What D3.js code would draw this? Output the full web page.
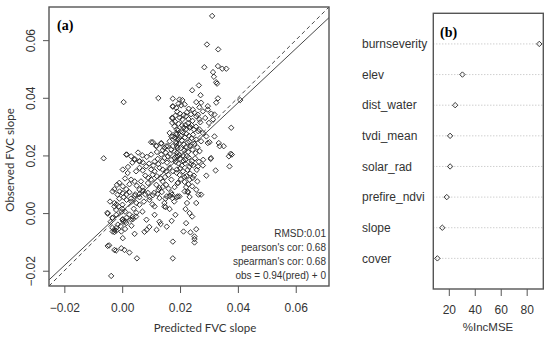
<!DOCTYPE html>
<html>
<head>
<meta charset="utf-8">
<script src="https://cdn.jsdelivr.net/npm/d3@7"></script>
<style>
  body { margin: 0; background: #fff; }
  svg { display: block; }
</style>
</head>
<body>
<div id="chart"></div>
<script>
// (a) observed vs predicted FVC slope, pairs of [predicted, observed]
var points = [
  [.0311,.0684],[.0293,.0585],[.0332,.0568],[.0284,.0506],[.0331,.0510],[.0346,.0501],[.0360,.0501],
  [.0314,.0489],[.0317,.0473],[.0325,.0454],[.0328,.0449],[.0265,.0443],[.0242,.0426],[.0271,.0409],
  [.0005,.0385],[.0125,.0399],[.0175,.0397],[.0198,.0394],[.0208,.0392],[.0331,.0398],[.0408,.0392],
  [.0256,.0385],[.0273,.0383],[.0296,.0371],[.0195,.0380],[.0204,.0374],[.0216,.0377],[.0175,.0369],
  [.0187,.0365],[.0230,.0362],[.0244,.0359],[.0267,.0367],[.0279,.0353],[.0296,.0359],[.0325,.0383],
  [.0308,.0345],[.0319,.0342],[.0172,.0330],[.0221,.0336],[.0208,.0325],[.0256,.0336],[.0267,.0325],
  [.0287,.0330],[.0314,.0325],[.0300,.0313],[.0377,.0296],[.0219,.0306],[.0233,.0296],[.0221,.0292],
  [.0235,.0299],[.0204,.0284],[.0187,.0278],[.0170,.0266],[.0198,.0261],[.0267,.0290],[.0279,.0278],
  [.0291,.0266],[.0256,.0255],[.0273,.0249],[.0319,.0266],[.0296,.0243],[.0334,.0243],[.0351,.0232],
  [.0337,.0232],[.0106,.0246],[.0135,.0241],[.0118,.0232],[.0152,.0232],[.0164,.0249],[.0175,.0232],
  [.0187,.0243],[.0375,.0206],[.0369,.0197],[-.0064,.0190],[.0016,.0203],[.0031,.0197],[.0043,.0188],
  [.0060,.0180],[.0307,.0191],
  [.0379,.0203],[.0371,.0162],[.0323,.0148],[.0306,.0188],[.0302,.0246],[.0279,.0165],[.0291,.0130],
  [.0244,.0122],[.0233,.0116],[.0262,.0162],[.0221,.0090],[.0227,.0075],
  [.0273,.0064],[.0227,.0072],[.0233,.0056],[.0224,.0035],[.0256,.0035],[.0219,.0014],[.0233,.0000],
  [.0221,-.0035],[.0212,-.0064],[.0236,-.0067],[.0256,-.0056],[.0250,-.0090],[.0250,-.0102],[.0250,-.0081],
  [.0242,-.0012],[.0264,.0064],[.0256,.0081],[.0198,.0058],[.0216,.0075],[.0242,.0093],
  [-.0038,-.0218],[.0051,-.0157],[.0175,-.0157],[-.0050,-.0114],[-.0027,-.0128],[-.0021,-.0130],
  [-.0045,-.0112],[-.0003,-.0122],[.0008,-.0128],[.0025,-.0137],[.0002,-.0087],[.0043,-.0072],
  [.0085,-.0058],[.0133,-.0038],[.0154,-.0047],[.0175,-.0099],[-.0033,-.0064],[-.0021,-.0061],
  [-.0003,-.0064],[-.0027,-.0066],[.0002,-.0021],[.0011,-.0029],[.0037,-.0021],[-.0042,.0040],
  [-.0050,-.0002],[-.0027,.0023],[-.0033,-.0017],[.0146,.0023],[.0164,.0014],[.0173,.0052],
  [.0192,.0058],[-.0012,.0023],[-.0021,.0011],[.0004,-.0029],[.0014,-.0035],[.0031,-.0023],
  [.0048,-.0012],[.0150,.0021],
  [.0175,.0371],[.0184,.0338],[.0175,.0330],[.0173,.0313],[.0181,.0301],[.0189,.0290],[.0164,.0278],
  [.0175,.0266],[.0187,.0272],[.0192,.0255],[.0100,.0246],[.0118,.0234],[.0135,.0243],[.0146,.0226],
  [.0158,.0232],[.0170,.0220],[.0181,.0214],[.0192,.0226],[.0014,.0203],[.0043,.0185],[.0060,.0179],
  [.0071,.0176],[.0100,.0203],[.0112,.0179],[.0123,.0188],[.0135,.0203],[.0146,.0191],[.0158,.0197],
  [.0170,.0185],[.0181,.0191],[.0192,.0197],
  [.0002,.0151],[.0019,.0139],[.0048,.0145],[.0060,.0157],[.0071,.0148],[.0083,.0162],[.0100,.0151],
  [.0112,.0145],[.0129,.0157],[.0140,.0151],[.0152,.0145],[.0164,.0157],[.0175,.0145],[.0189,.0151],
  [-.0027,.0083],[-.0009,.0075],[.0002,.0093],[.0014,.0083],[.0031,.0116],[.0043,.0110],[.0060,.0081],
  [.0071,.0090],[.0089,.0104],[.0100,.0116],[.0118,.0098],[.0129,.0087],[.0140,.0110],[.0152,.0098],
  [.0170,.0116],[.0181,.0090],[.0192,.0104],
  [-.0033,.0075],[-.0016,.0064],[.0002,.0069],[.0025,.0072],[.0043,.0060],[.0060,.0066],[.0071,.0078],
  [.0089,.0070],[.0106,.0062],[.0123,.0067],[.0137,.0073],[.0154,.0058],[.0172,.0064],[.0189,.0055],
  [-.0027,.0035],[.0001,.0029],[.0015,.0046],[.0032,.0040],[.0049,.0035],[.0060,.0029],[.0094,.0046],
  [.0112,.0023],[.0129,.0052],[.0146,.0035],
  [-.0051,.0001],[-.0034,-.0016],[-.0020,-.0006],[-.0002,.0005],[.0001,-.0023],[.0015,-.0016],
  [.0036,-.0013],[.0049,.0001],[.0070,.0005],[.0084,-.0023],[.0112,-.0006],[.0129,-.0030],
  [.0171,-.0027],[.0184,-.0006],[-.0034,-.0051],[-.0027,-.0058],[-.0020,-.0051],[.0032,-.0044],
  [.0077,-.0065],[.0094,-.0048],[.0119,-.0058],
  [.0190,.0352],[.0200,.0345],[.0212,.0340],[.0224,.0350],[.0238,.0343],[.0250,.0348],[.0262,.0341],
  [.0199,.0331],[.0229,.0326],[.0243,.0320],[.0270,.0315],[.0183,.0317],[.0195,.0310],[.0207,.0305],
  [.0213,.0297],[.0228,.0312],[.0240,.0305],[.0248,.0290],[.0255,.0300],[.0263,.0284],[.0210,.0280],
  [.0222,.0275],[.0231,.0268],[.0245,.0272],[.0182,.0262],[.0240,.0260],
  [.0185,.0248],[.0196,.0240],[.0206,.0252],[.0214,.0238],[.0226,.0245],[.0236,.0232],[.0249,.0240],
  [.0260,.0228],[.0202,.0225],[.0215,.0218],[.0228,.0212],[.0243,.0220],[.0254,.0208],[.0268,.0215],
  [.0190,.0210],[.0186,.0196],[.0200,.0188],[.0210,.0200],[.0219,.0185],[.0230,.0193],[.0241,.0180],
  [.0252,.0190],[.0265,.0178],[.0195,.0172],[.0206,.0165],[.0218,.0172],[.0232,.0160],[.0246,.0166],
  [.0258,.0150],[.0280,.0185],[.0188,.0140],[.0199,.0132],[.0210,.0145],[.0222,.0128],[.0235,.0137],
  [.0248,.0130],[.0203,.0118],[.0216,.0108],[.0229,.0100],[.0193,.0105],[.0260,.0110],
  [.0080,.0130],[.0090,.0122],[.0105,.0133],[.0120,.0128],[.0133,.0120],[.0148,.0125],[.0160,.0133],
  [.0093,.0172],[.0108,.0165],[.0125,.0170],[.0140,.0180],[.0155,.0175],[.0165,.0205],[.0150,.0210],
  [.0140,.0218],[.0120,.0212],[.0085,.0195],[.0070,.0200],[.0055,.0210],[.0035,.0175],[.0020,.0160],
  [.0010,.0120],[-.0010,.0105],[-.0018,.0098],[.0025,.0100],[.0050,.0095],[.0065,.0110],[.0080,.0065],
  [.0095,.0055],[.0110,.0070],[.0125,.0080],[.0140,.0090],[.0160,.0085],[.0170,.0070],[.0180,.0040],
  [.0165,.0060],[.0150,.0050],[.0105,.0030],[.0075,.0040],[.0060,.0055],[.0045,.0065],[.0030,.0050],
  [.0015,.0065],[.0005,.0055],[-.0010,.0050],[-.0020,.0030],[.0000,.0015],[.0010,.0005],[.0025,-.0005],
  [.0040,.0015],[-.0015,-.0040],[-.0005,-.0045],[.0010,-.0055],[-.0040,-.0030],
  [.0193,.0287],[.0203,.0268],[.0217,.0262],[.0189,.0233],[.0220,.0229],[.0233,.0248],[.0197,.0202],
  [.0224,.0198],[.0212,.0181],[.0238,.0170],[.0185,.0178],[.0201,.0155],[.0226,.0150],[.0215,.0125]
];
var axisLimits = [-0.0253, 0.0715];
var slopeTicks = [-0.02, 0, 0.02, 0.04, 0.06];
var fitSlope = 0.94, fitIntercept = 0.0006;
var statsText = ['RMSD:0.01', "pearson's cor: 0.68", "spearman's cor: 0.68", 'obs = 0.94(pred) + 0'];

// (b) variable importance
var variables = ['burnseverity', 'elev', 'dist_water', 'tvdi_mean', 'solar_rad', 'prefire_ndvi', 'slope', 'cover'];
var incMSE = [89.7, 30.5, 24.9, 21.0, 21.0, 18.4, 15.0, 11.2];
var mseTicks = [20, 40, 60, 80];

var W = 550, H = 339;
var sans = 'Liberation Sans, Arial, sans-serif';
var boxColor = '#555', ink = '#222';

var svg = d3.select('#chart').append('svg')
  .attr('width', W)
  .attr('height', H);

var diamond = function diamond(g, x, y) {
  var r = 2.7;
  g.append('path')
    .attr('d', 'M' + x + ',' + (y - r) + 'L' + (x + r) + ',' + y + 'L' + x + ',' + (y + r) + 'L' + (x - r) + ',' + y + 'Z')
    .attr('fill', 'none')
    .attr('stroke', ink)
    .attr('stroke-width', 0.9);
};

/* Panel (a) */

var ax = { left: 49, right: 329, top: 7, bottom: 286 };
var x = d3.scaleLinear().domain(axisLimits).range([ax.left, ax.right]);
var y = d3.scaleLinear().domain(axisLimits).range([ax.bottom, ax.top]);

var gA = svg.append('g');

var clip = svg.append('clipPath').attr('id', 'clipA');
clip.append('rect')
  .attr('x', ax.left).attr('y', ax.top)
  .attr('width', ax.right - ax.left).attr('height', ax.bottom - ax.top);

var pts = gA.append('g');
points.forEach(function(p) {
  diamond(pts, x(p[0]), y(p[1]));
});

var lines = gA.append('g').attr('clip-path', 'url(#clipA)');
// 1:1 line
lines.append('line')
  .attr('x1', x(axisLimits[0])).attr('y1', y(axisLimits[0]))
  .attr('x2', x(axisLimits[1])).attr('y2', y(axisLimits[1]))
  .attr('stroke', '#333').attr('stroke-width', 0.9)
  .attr('stroke-dasharray', '4,3');
// fitted line
lines.append('line')
  .attr('x1', x(axisLimits[0])).attr('y1', y(fitSlope * axisLimits[0] + fitIntercept))
  .attr('x2', x(axisLimits[1])).attr('y2', y(fitSlope * axisLimits[1] + fitIntercept))
  .attr('stroke', '#333').attr('stroke-width', 0.9);

gA.append('rect')
  .attr('x', ax.left).attr('y', ax.top)
  .attr('width', ax.right - ax.left).attr('height', ax.bottom - ax.top)
  .attr('fill', 'none').attr('stroke', boxColor).attr('stroke-width', 1.4);

var xAxis = gA.append('g')
  .attr('transform', 'translate(0,' + ax.bottom + ')')
  .call(d3.axisBottom(x).tickValues(slopeTicks).tickFormat(d3.format('.2f')).tickSize(7).tickPadding(6));
xAxis.select('.domain').remove();
xAxis.selectAll('line').attr('stroke', boxColor);
xAxis.selectAll('text')
  .attr('font-family', sans).attr('font-size', 12).attr('fill', '#333')
  .attr('y', 26).attr('dy', 0);

var yAxis = gA.append('g')
  .attr('transform', 'translate(' + ax.left + ',0)')
  .call(d3.axisLeft(y).tickValues(slopeTicks).tickFormat(d3.format('.2f')).tickSize(6));
yAxis.select('.domain').remove();
yAxis.selectAll('line').attr('stroke', boxColor);
yAxis.selectAll('text')
  .attr('font-family', sans).attr('font-size', 12).attr('fill', '#333')
  .attr('x', 0).attr('dy', 0)
  .attr('text-anchor', 'middle')
  .attr('transform', 'translate(-14,0) rotate(-90)');

gA.append('text')
  .attr('x', 205).attr('y', 332)
  .attr('text-anchor', 'middle')
  .attr('font-family', 'Lato, sans-serif').attr('font-size', 11.5).attr('fill', '#333')
  .text('Predicted FVC slope');

gA.append('text')
  .attr('transform', 'translate(14,160) rotate(-90)')
  .attr('text-anchor', 'middle')
  .attr('font-family', 'Lato, sans-serif').attr('font-size', 11.5).attr('fill', '#333')
  .text('Observed FVC slope');

gA.append('text')
  .attr('x', 57).attr('y', 30)
  .attr('font-family', 'Liberation Serif, serif').attr('font-weight', 'bold').attr('font-size', 14)
  .text('(a)');

gA.selectAll('.stat')
  .data(statsText)
  .enter().append('text')
  .attr('class', 'stat')
  .attr('x', 326)
  .attr('y', function(d, i) { return 237 + i * 14; })
  .attr('text-anchor', 'end')
  .attr('font-family', sans).attr('font-size', 10).attr('fill', '#333')
  .text(function(d) { return d; });

/* Panel (b) */

var bx = { left: 433.3, right: 543.3, top: 13.3, bottom: 289 };
var xb = d3.scaleLinear().domain([8.06, 92.8]).range([bx.left, bx.right]);
var yb = d3.scaleLinear().domain([0, variables.length + 1]).range([bx.bottom, bx.top]);
var rowPos = function(i) { return yb(variables.length - i); };

var gB = svg.append('g');

gB.selectAll('.guide')
  .data(variables)
  .enter().append('line')
  .attr('class', 'guide')
  .attr('x1', bx.left).attr('x2', bx.right)
  .attr('y1', function(d, i) { return rowPos(i); })
  .attr('y2', function(d, i) { return rowPos(i); })
  .attr('stroke', '#aaa').attr('stroke-width', 0.8)
  .attr('stroke-dasharray', '1,2');

incMSE.forEach(function(v, i) {
  diamond(gB, xb(v), rowPos(i));
});

gB.selectAll('.varname')
  .data(variables)
  .enter().append('text')
  .attr('class', 'varname')
  .attr('x', 362)
  .attr('y', function(d, i) { return rowPos(i); })
  .attr('dy', '0.35em')
  .attr('font-family', sans).attr('font-size', 12).attr('fill', '#333')
  .text(function(d) { return d; });

gB.append('rect')
  .attr('x', bx.left).attr('y', bx.top)
  .attr('width', bx.right - bx.left).attr('height', bx.bottom - bx.top)
  .attr('fill', 'none').attr('stroke', boxColor).attr('stroke-width', 1.4);

var xbAxis = gB.append('g')
  .attr('transform', 'translate(0,' + bx.bottom + ')')
  .call(d3.axisBottom(xb).tickValues(mseTicks).tickSize(7).tickPadding(6));
xbAxis.select('.domain').remove();
xbAxis.selectAll('line').attr('stroke', boxColor);
xbAxis.selectAll('text')
  .attr('font-family', sans).attr('font-size', 12).attr('fill', '#333')
  .attr('y', 25).attr('dy', 0);

gB.append('text')
  .attr('x', 488).attr('y', 331)
  .attr('text-anchor', 'middle')
  .attr('font-family', sans).attr('font-size', 11.5).attr('fill', '#333')
  .text('%IncMSE');

gB.append('text')
  .attr('x', 440).attr('y', 37)
  .attr('font-family', 'Liberation Serif, serif').attr('font-weight', 'bold').attr('font-size', 14)
  .text('(b)');
</script>
</body>
</html>
